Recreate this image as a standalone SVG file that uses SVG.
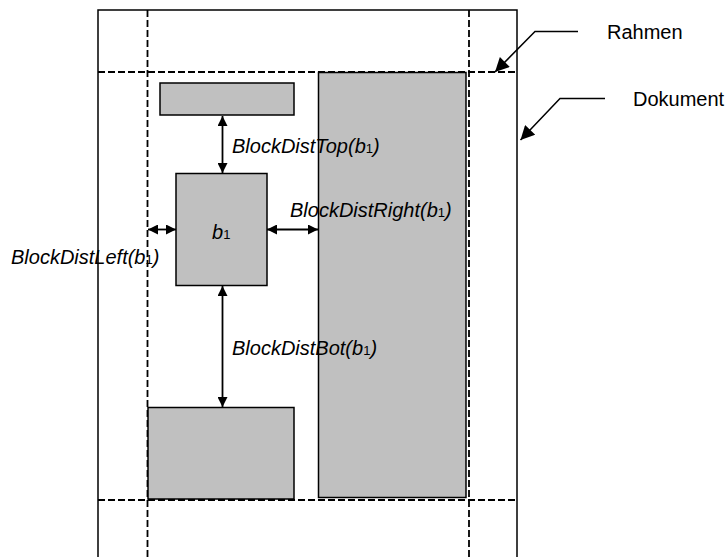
<svg xmlns="http://www.w3.org/2000/svg" width="728" height="557" viewBox="0 0 728 557">
<defs>
<style>
.doc{fill:none;stroke:#000;stroke-width:1.5}
.dash{fill:none;stroke:#000;stroke-width:1.8;stroke-dasharray:7 3}
.blk{fill:#c0c0c0;stroke:#000;stroke-width:1.5}
.arr{fill:none;stroke:#000;stroke-width:1.8;marker-start:url(#ah);marker-end:url(#ah)}
.ptr{fill:none;stroke:#000;stroke-width:1.5;marker-end:url(#ah2)}
.lbl{font-family:"Liberation Sans",Arial,sans-serif;font-size:20px;font-style:italic;fill:#000}
.sub{font-size:13px;font-style:normal}
.txt{font-family:"Liberation Sans",Arial,sans-serif;font-size:20px;fill:#000}
</style>
<marker id="ah" viewBox="0 0 10 10" refX="10" refY="5" markerWidth="11" markerHeight="10" markerUnits="userSpaceOnUse" orient="auto-start-reverse">
<path d="M0,0 L10,5 L0,10 Z" fill="#000"/>
</marker>
<marker id="ah2" viewBox="0 0 10 10" refX="10" refY="5" markerWidth="17" markerHeight="14" markerUnits="userSpaceOnUse" orient="auto">
<path d="M0,0 L10,5 L0,10 Z" fill="#000"/>
</marker>
</defs>
<g id="dokument">
<path class="doc" d="M98,557 V10 H517 V557"/>
</g>
<g id="rahmen">
<line class="dash" x1="98" y1="72" x2="517" y2="72"/>
<line class="dash" x1="98" y1="500" x2="517" y2="500"/>
<line class="dash" x1="147.5" y1="10" x2="147.5" y2="557"/>
<line class="dash" x1="469" y1="10" x2="469" y2="557"/>
</g>
<g id="block-top">
<rect class="blk" x="160" y="83" width="134" height="32"/>
</g>
<g id="block-b1">
<rect class="blk" x="176" y="173.5" width="91" height="112"/>
<text class="lbl" x="212" y="239">b<tspan class="sub">1</tspan></text>
</g>
<g id="block-bottom">
<rect class="blk" x="148" y="407.5" width="146" height="91.5"/>
</g>
<g id="block-right">
<rect class="blk" x="318.5" y="72.5" width="147.5" height="425"/>
</g>
<g id="connectors">
<line class="arr" x1="222.5" y1="116" x2="222.5" y2="173"/>
<line class="arr" x1="222.5" y1="286" x2="222.5" y2="407"/>
<line class="arr" x1="148" y1="229.5" x2="176" y2="229.5"/>
<line class="arr" x1="267" y1="229.5" x2="318" y2="229.5"/>
<polyline class="ptr" points="578,31.5 535,31.5 495,72"/>
<polyline class="ptr" points="605,98.5 560,98.5 520.5,140"/>
</g>
<g id="labels">
<text class="lbl" x="232" y="153">BlockDistTop(b<tspan class="sub">1</tspan>)</text>
<text class="lbl" x="290" y="217">BlockDistRight(b<tspan class="sub">1</tspan>)</text>
<text class="lbl" x="11" y="264">BlockDistLeft(b<tspan class="sub">1</tspan>)</text>
<text class="lbl" x="232" y="355">BlockDistBot(b<tspan class="sub">1</tspan>)</text>
<text class="txt" x="607" y="39">Rahmen</text>
<text class="txt" x="633" y="106">Dokument</text>
</g>
</svg>
